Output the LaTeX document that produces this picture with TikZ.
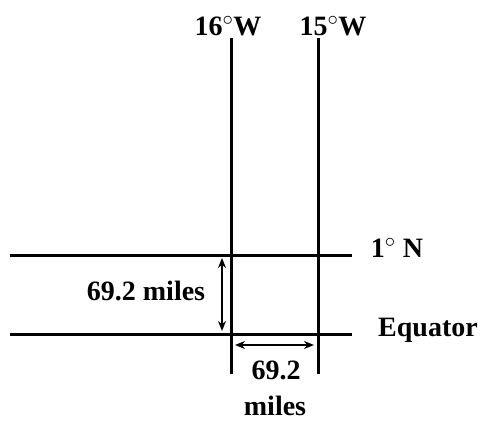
\documentclass[tikz,border=0pt]{standalone}
\usepackage{fontspec}
\setmainfont{Liberation Serif}
\tikzset{
  gridline/.style={black,line width=3pt},
  span/.style={black,line width=2pt,{Stealth[length=10pt,width=8pt]}-{Stealth[length=10pt,width=8pt]}},
  lbl/.style={anchor=base,inner sep=0pt,font=\fontsize{28}{32}\selectfont\bfseries}
}
\usetikzlibrary{arrows.meta}
\begin{document}
\begin{tikzpicture}[x=1pt,y=-1pt]
\useasboundingbox (0,0) rectangle (483,423);
\coordinate (w16top) at (231,38);  \coordinate (w16bot) at (231,374);   % 16 W meridian
\coordinate (w15top) at (318,38);  \coordinate (w15bot) at (318,374);   % 15 W meridian
\coordinate (n1west) at (10,255);  \coordinate (n1east) at (352,255);   % 1 N parallel
\coordinate (eqwest) at (10,334);  \coordinate (eqeast) at (352,334);   % the equator
\draw[gridline] (w16top) -- (w16bot);
\draw[gridline] (w15top) -- (w15bot);
\draw[gridline] (n1west) -- (n1east);
\draw[gridline] (eqwest) -- (eqeast);
\coordinate (latup) at (222,258);  \coordinate (latdown) at (222,331);  % one degree of latitude
\coordinate (lonleft) at (235,345); \coordinate (lonright) at (314,345); % one degree of longitude
\draw[span] (latup) -- (latdown);
\draw[span] (lonleft) -- (lonright);
\node[lbl] (w16) at (228,35) {16$^{\circ}$W};
\node[lbl] (w15) at (333,35) {15$^{\circ}$W};
\node[lbl] (n1) at (397,257) {1$^{\circ}$ N};
\node[lbl] (eq) at (428,336) {Equator};
\node[lbl] (latmiles) at (146,300) {69.2 miles};
\node[lbl] (lonnum) at (276,379) {69.2};
\node[lbl] (lonmiles) at (275,415) {miles};
\end{tikzpicture}
\end{document}
